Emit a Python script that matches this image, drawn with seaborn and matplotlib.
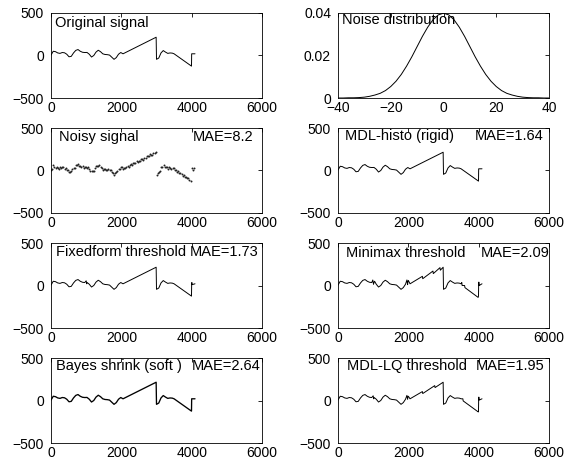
import numpy as np
import pandas as pd
import matplotlib
matplotlib.use("Agg")
import matplotlib.pyplot as plt
import seaborn as sns

# ---------------- data ----------------
orig_x = [0, 64, 128, 192, 256, 320, 384, 448, 512, 576, 640, 704, 768, 832, 896, 960,
          1024, 1088, 1152, 1216, 1280, 1344, 1408, 1472, 1536, 1600, 1664, 1728, 1792,
          1856, 1920, 1984, 2048, 2990, 3000, 3064, 3128, 3192, 3256, 3320, 3384, 3448,
          3500, 3995, 4000, 4095]
orig_y = [5, 50, 45, 30, 25, 35, 32, 15, -15, -10, 30, 60, 70, 50, 38, 35,
          36, 15, -18, 0, 40, 62, 45, 20, 12, 10, 5, -20, -45,
          -25, 15, 35, 20, 215, -45, -30, 30, 58, 40, 25, 30, 28,
          20, -125, 20, 20]

noisy_x = list(range(0, 4096, 32))
noisy_y = [9, 23, 59, 45, 34, 44, 32, 19, 37, 25, 36, 41, 22, 27, 9, 10,
           -17, -23, -5, 18, 26, 33, 66, 65, 79, 53, 53, 39, 49, 28, 37, 39,
           30, 36, 12, -11, -11, -8, -11, 25, 48, 49, 55, 66, 41, 35, 10, 22,
           21, 10, 2, 12, 0, 3, -23, -25, -57, -33, -20, -11, 23, 16, 36, 38,
           16, 33, 26, 43, 58, 43, 60, 71, 65, 89, 84, 87, 110, 103, 117, 110,
           133, 134, 128, 152, 147, 167, 165, 165, 189, 188, 180, 204, 201, 221, -49, -34,
           -18, -5, 39, 47, 67, 40, 40, 36, 20, 37, 28, 18, 35, 25, 7, 10,
           -14, -2, -27, -32, -36, -60, -51, -76, -77, -90, -90, -113, -120, 27, 11, 24]

noise_x = [-40, -38, -36, -34, -32, -30, -28, -26, -24, -22, -20, -18, -16, -14, -12, -10,
           -8, -6, -4, -2, 0, 2, 4, 6, 8, 10, 12, 14, 16, 18, 20, 22, 24, 26, 28, 30,
           32, 34, 36, 38, 40]
noise_pdf = [0.0000, 0.0000, 0.0001, 0.0001, 0.0002, 0.0004, 0.0008, 0.0014, 0.0022, 0.0035,
             0.0054, 0.0079, 0.0111, 0.0150, 0.0194, 0.0242, 0.0290, 0.0333, 0.0368, 0.0391,
             0.0399,
             0.0391, 0.0368, 0.0333, 0.0290, 0.0242, 0.0194, 0.0150, 0.0111, 0.0079, 0.0054,
             0.0035, 0.0022, 0.0014, 0.0008, 0.0004, 0.0002, 0.0001, 0.0001, 0.0000, 0.0000]

# reconstruction artefacts (extra points) per method
histo_ex_x, histo_ex_y = [], []
fixed_ex_x = [1000, 1015, 4005, 4012]
fixed_ex_y = [55, 20, 35, 10]
minimax_ex_x = [990, 1010, 1040, 1960, 1980, 2000, 2400, 2410, 2700, 2710, 2900, 2910,
                3520, 3530, 3600, 3610, 3985, 4005, 4015]
minimax_ex_y = [65, 15, 50, 65, 10, 60, 108, 80, 170, 140, 210, 180,
                35, 0, 0, -25, -140, 40, 0]
bayes_ex_x, bayes_ex_y = [], []
lq_ex_x = [1000, 1015, 1960, 1980, 2000, 2400, 2410, 2750, 2760, 3550, 3560, 3990, 4005, 4015]
lq_ex_y = [55, 20, 60, 15, 50, 105, 82, 175, 152, 20, -5, -135, 40, 5]

titles = ["Original signal", "Noise distribution", "Noisy signal", "MDL-histo (rigid)",
          "Fixedform threshold", "Minimax threshold", "Bayes shrink (soft )", "MDL-LQ threshold"]
mae_labels = [None, None, "MAE=8.2", "MAE=1.64", "MAE=1.73", "MAE=2.09", "MAE=2.64", "MAE=1.95"]

# ---------------- style ----------------
sns.set_style("white")
plt.rcParams["font.family"] = ["Liberation Sans", "DejaVu Sans"]
plt.rcParams["axes.unicode_minus"] = True

W, H = 578, 461
fig = plt.figure(figsize=(W / 100, H / 100), dpi=100)
fig.patch.set_facecolor("white")

def make_ax(col, row):
    left = 51 if col == 0 else 338
    top = 13 + 115 * row
    ax = fig.add_axes([left / W, 1 - (top + 85) / H, 211 / W, 85 / H])
    for s in ax.spines.values():
        s.set_linewidth(0.6)
        s.set_color("black")
        s.set_visible(True)
    ax.tick_params(direction="in", top=True, right=True, length=3, width=0.6,
                   labelsize=10, colors="black")
    ax.tick_params(axis="x", pad=2.2)
    ax.tick_params(axis="y", pad=5)
    return ax

def sig_axes(ax):
    ax.set_xlim(0, 6000)
    ax.set_ylim(-500, 500)
    ax.set_xticks([0, 2000, 4000, 6000])
    ax.set_yticks([-500, 0, 500])
    ax.set_xlabel("")
    ax.set_ylabel("")

def curve(ax, ex_x, ex_y, lw=0.7):
    df = pd.DataFrame({"x": orig_x + ex_x, "y": orig_y + ex_y}).sort_values("x", kind="stable")
    sns.lineplot(data=df, x="x", y="y", ax=ax, estimator=None, sort=False,
                 color="black", linewidth=lw)

text_pos = {  # (label x, baseline y, MAE x) in axes fraction
    0: (0.019, 0.835, None),
    1: (0.019, 0.87, None),
    2: (0.038, 0.847, 0.673),
    3: (0.033, 0.86, 0.649),
    4: (0.024, 0.847, 0.659),
    5: (0.038, 0.835, 0.678),
    6: (0.024, 0.86, 0.668),
    7: (0.043, 0.86, 0.654),
}

axes = []
for i in range(8):
    ax = make_ax(i % 2, i // 2)
    axes.append(ax)

# Original
curve(axes[0], [], [])
sig_axes(axes[0])

# Noise distribution
sns.lineplot(x=noise_x, y=noise_pdf, ax=axes[1], color="black", linewidth=0.7,
             estimator=None, sort=False)
axes[1].set_xlim(-40, 40)
axes[1].set_ylim(0, 0.04)
axes[1].set_xticks([-40, -20, 0, 20, 40])
axes[1].set_yticks([0, 0.02, 0.04])
axes[1].set_yticklabels(["0", "0.02", "0.04"])

# Noisy
sns.scatterplot(x=noisy_x, y=noisy_y, ax=axes[2], color="#222222", s=2, linewidth=0)
sig_axes(axes[2])

curve(axes[3], histo_ex_x, histo_ex_y)
sig_axes(axes[3])
curve(axes[4], fixed_ex_x, fixed_ex_y)
sig_axes(axes[4])
curve(axes[5], minimax_ex_x, minimax_ex_y)
sig_axes(axes[5])
curve(axes[6], bayes_ex_x, bayes_ex_y, lw=0.95)
sig_axes(axes[6])
curve(axes[7], lq_ex_x, lq_ex_y)
sig_axes(axes[7])

for i, ax in enumerate(axes):
    lx, by, mx = text_pos[i]
    ax.text(lx, by, titles[i], transform=ax.transAxes, fontsize=10.5,
            va="baseline", ha="left", color="black")
    if mae_labels[i]:
        ax.text(mx, by, mae_labels[i], transform=ax.transAxes, fontsize=10.5,
                va="baseline", ha="left", color="black")

fig.savefig("out.png", dpi=100, facecolor="white")
